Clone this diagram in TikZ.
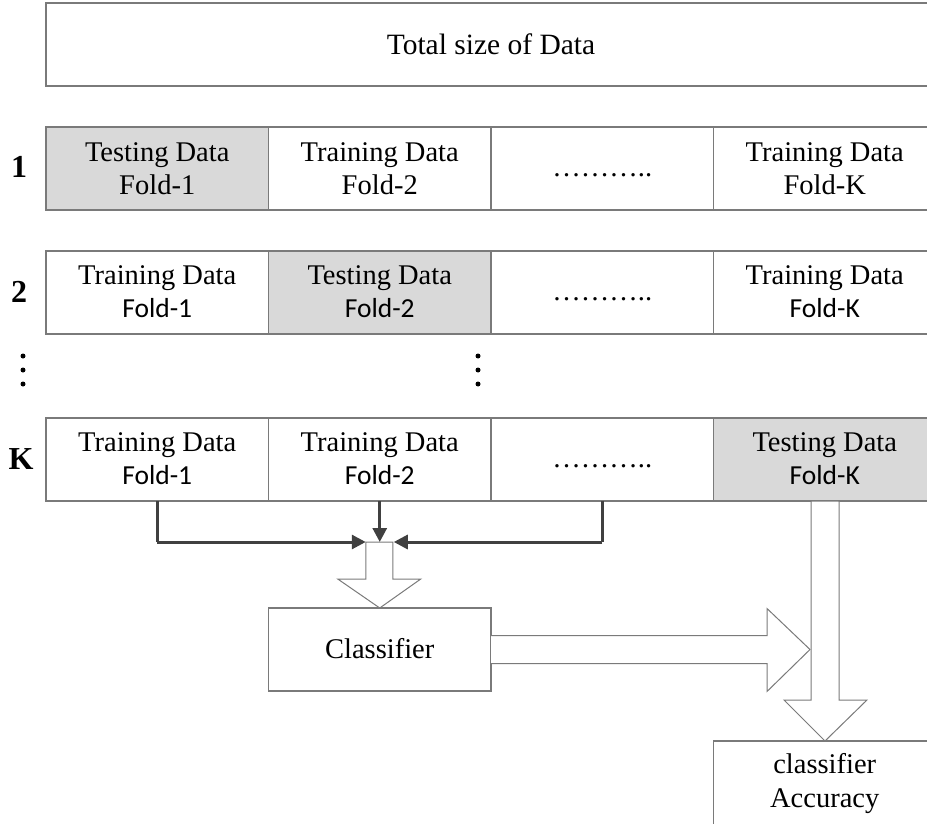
\documentclass[tikz,border=0pt]{standalone}
\usepackage{fontspec}
\setmainfont{Liberation Serif}
\newfontfamily\cellserif{Liberation Serif}
\newfontfamily\cellsans{Carlito}
\usetikzlibrary{arrows.meta,calc}

\definecolor{boxgray}{HTML}{7A7A7A}
\definecolor{testgray}{HTML}{D9D9D9}
\definecolor{flowgray}{HTML}{404040}

\newcommand\cellfont{\cellserif\fontsize{28.5}{32}\selectfont}
\newcommand\foldsans{\cellsans\fontsize{27.5}{31}\selectfont}
\newcommand\rowfont{\bfseries\fontsize{32}{34}\selectfont}

\tikzset{
  cellbox/.style={draw=boxgray, line width=1.3pt, minimum width=222.5pt,
    minimum height=83pt, inner sep=0pt, outer sep=0pt, anchor=north west},
  testbox/.style={cellbox, fill=testgray},
  lineA/.style={anchor=base, inner sep=0pt, font=\cellfont},
  lineS/.style={anchor=base, inner sep=0pt, font=\foldsans},
  rowlabel/.style={anchor=base, inner sep=0pt, font=\rowfont},
  flow/.style={draw=flowgray, line width=3pt,
    -{Triangle[length=14pt,width=14pt]}},
  plainflow/.style={draw=flowgray, line width=3pt},
  blockarrow/.style={draw=boxgray, line width=1pt, fill=white},
  vdot/.style={fill=black, draw=none}
}

\begin{document}
\begin{tikzpicture}[x=1pt,y=-1pt]
\useasboundingbox (0,0) rectangle (927,824);

% whole data set
\node[cellbox, minimum width=890pt] (total) at (46,3) {};
\node[anchor=base, inner sep=0pt, font=\cellserif\fontsize{29.5}{33}\selectfont]
  (totaltext) at ($(total.north)+(0,52)$) {Total size of Data};

% round 1
\node[testbox]  (r1a) at (46,127) {};
\node[cellbox]  (r1b) at (268.5,127) {};
\node[cellbox]  (r1c) at (491,127) {};
\node[cellbox]  (r1d) at (713.5,127) {};
\node[rowlabel] (l1) at (19,178) {1};
\node[lineA] at ($(r1a.north)+(0,35)$) {Testing Data};
\node[lineA] at ($(r1a.north)+(0,68)$) {Fold-1};
\node[lineA] at ($(r1b.north)+(0,35)$) {Training Data};
\node[lineA] at ($(r1b.north)+(0,68)$) {Fold-2};
\node[lineA] at ($(r1c.north)+(0,50)$) {………..};
\node[lineA] at ($(r1d.north)+(0,35)$) {Training Data};
\node[lineA] at ($(r1d.north)+(0,68)$) {Fold-K};

% round 2
\node[cellbox]  (r2a) at (46,251) {};
\node[testbox]  (r2b) at (268.5,251) {};
\node[cellbox]  (r2c) at (491,251) {};
\node[cellbox]  (r2d) at (713.5,251) {};
\node[rowlabel] (l2) at (19,302) {2};
\node[lineA] at ($(r2a.north)+(0,33)$) {Training Data};
\node[lineS] at ($(r2a.north)+(0,66)$) {Fold-1};
\node[lineA] at ($(r2b.north)+(0,33)$) {Testing Data};
\node[lineS] at ($(r2b.north)+(0,66)$) {Fold-2};
\node[lineA] at ($(r2c.north)+(0,49)$) {………..};
\node[lineA] at ($(r2d.north)+(0,33)$) {Training Data};
\node[lineS] at ($(r2d.north)+(0,66)$) {Fold-K};

% rounds in between
\foreach \yy in {356,370,384} {
  \fill[vdot] (23,\yy) circle (2.5pt);
  \fill[vdot] (478,\yy) circle (2.5pt);
}

% round K
\node[cellbox]  (rka) at (46,418) {};
\node[cellbox]  (rkb) at (268.5,418) {};
\node[cellbox]  (rkc) at (491,418) {};
\node[testbox]  (rkd) at (713.5,418) {};
\node[rowlabel] (lk) at (21,469) {K};
\node[lineA] at ($(rka.north)+(0,33)$) {Training Data};
\node[lineS] at ($(rka.north)+(0,66)$) {Fold-1};
\node[lineA] at ($(rkb.north)+(0,33)$) {Training Data};
\node[lineS] at ($(rkb.north)+(0,66)$) {Fold-2};
\node[lineA] at ($(rkc.north)+(0,49)$) {………..};
\node[lineA] at ($(rkd.north)+(0,33)$) {Testing Data};
\node[lineS] at ($(rkd.north)+(0,66)$) {Fold-K};

% classifier and result
\node[cellbox] (clf) at (268.5,608) {};
\node[lineA] at ($(clf.north)+(0,50)$) {Classifier};
\node[cellbox, minimum height=100pt] (acc) at (713.5,741) {};
\node[lineA] at ($(acc.north)+(0,32)$) {classifier};
\node[lineA] at ($(acc.north)+(0,66)$) {Accuracy};

% training folds gathered for the classifier
\coordinate (join) at ($(rkb.south)+(0,41)$);
\draw[plainflow] (rka.south) -- (rka.south |- join);
\draw[flow] (rka.south |- join) -- ($(join)+(-14,0)$);
\draw[flow] (rkb.south) -- (join);
\draw[plainflow] (rkc.south) -- (rkc.south |- join);
\draw[flow] (rkc.south |- join) -- ($(join)+(14,0)$);

% block arrow into the classifier
\draw[blockarrow]
  ($(join)+(-14,0)$) -- ($(join)+(13,0)$) -- ($(join)+(13,37)$) --
  ($(join)+(41,37)$) -- (clf.north) -- ($(join)+(-42,37)$) --
  ($(join)+(-14,37)$) -- cycle;

% block arrow from the classifier
\draw[blockarrow]
  ($(clf.east)+(0,-14)$) -- ($(clf.east)+(276,-14)$) -- ($(clf.east)+(276,-41)$) --
  ($(clf.east)+(319,0)$) -- ($(clf.east)+(276,42)$) -- ($(clf.east)+(276,14)$) --
  ($(clf.east)+(0,14)$);

% block arrow from the test fold to the accuracy
\draw[blockarrow]
  ($(rkd.south west)+(97.5,0)$) -- ($(rkd.south west)+(125.5,0)$) --
  ($(rkd.south west)+(125.5,199)$) -- ($(rkd.south west)+(153.5,199)$) --
  ($(acc.north west)+(111.5,0)$) -- ($(rkd.south west)+(70.5,199)$) --
  ($(rkd.south west)+(97.5,199)$) -- cycle;
\end{tikzpicture}
\end{document}
